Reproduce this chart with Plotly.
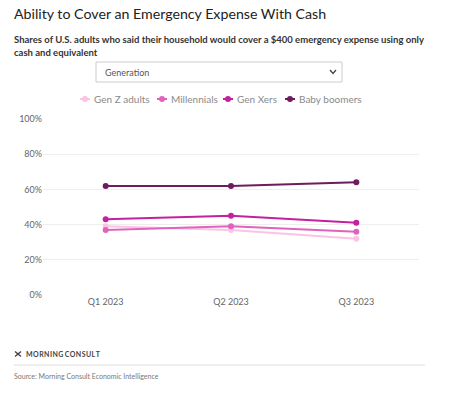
import plotly.graph_objects as go

quarters = ["Q1 2023", "Q2 2023", "Q3 2023"]
gen_z = [39, 37, 32]
millennials = [37, 39, 36]
gen_x = [43, 45, 41]
boomers = [62, 62, 64]
series_names = ["Gen Z adults", "Millennials", "Gen Xers", "Baby boomers"]
series_values = [gen_z, millennials, gen_x, boomers]
colors = ["#fbc3e4", "#e064bd", "#c5219e", "#6e1c5c"]
y_ticks = [0, 20, 40, 60, 80, 100]
y_tick_labels = ["0%", "20%", "40%", "60%", "80%", "100%"]

FONT = "Lato"
W, H = 452, 393
# plot area in page pixels: x 43..419, y 119..295
L, R, T, B = 43, 452 - 419, 119, 393 - 295
PW, PH = W - L - R, H - T - B


def px(x):
    return (x - L) / PW


def py(y):
    return (H - B - y) / PH


fig = go.Figure()
for name, vals, c in zip(series_names, series_values, colors):
    fig.add_trace(go.Scatter(
        x=quarters, y=vals, name=name, mode="lines+markers",
        line=dict(color=c, width=2), marker=dict(color=c, size=6),
        hovertemplate="%{y}%<extra>" + name + "</extra>",
    ))


def note(text, x, y, size, color, anchor="left"):
    return dict(text=text, x=px(x), y=py(y), xref="paper", yref="paper",
                xanchor=anchor, yanchor="middle", showarrow=False,
                font=dict(family=FONT, size=size, color=color))


hs = "\u200a"
logo_text = hs.join("MORNING") + hs * 3 + hs.join("CONSULT")

annotations = [
    note("Ability to Cover an Emergency Expense With Cash", 12, 13, 14.2, "#222222"),
    note("<b>Shares of U.S. adults who said their household would cover a $400 emergency expense using only</b>",
         12, 40, 9.5, "#333333"),
    note("<b>cash and equivalent</b>", 12, 52, 9.5, "#333333"),
    note("Generation", 103, 72, 9, "#555555"),
    note("<b>" + logo_text + "</b>", 24, 354, 7, "#444444"),
    note("Source: Morning Consult Economic Intelligence", 12, 376, 7, "#777777"),
]

shapes = [
    dict(type="rect", xref="paper", yref="paper", x0=px(96), x1=px(342), y0=py(82), y1=py(62),
         line=dict(color="#cccccc", width=1), fillcolor="white", layer="below"),
    dict(type="path", xref="paper", yref="paper",
         path=f"M {px(330)},{py(70)} L {px(333)},{py(73.5)} L {px(336)},{py(70)}",
         line=dict(color="#444444", width=1.3)),
    dict(type="line", xref="paper", yref="paper", x0=px(14), x1=px(425), y0=py(365), y1=py(365),
         line=dict(color="#dddddd", width=1)),
    dict(type="line", xref="paper", yref="paper", x0=px(15), x1=px(21), y0=py(351.5), y1=py(356.5),
         line=dict(color="#444444", width=1.4)),
    dict(type="line", xref="paper", yref="paper", x0=px(15), x1=px(21), y0=py(356.5), y1=py(351.5),
         line=dict(color="#444444", width=1.4)),
]

# compact legend
legend_sym_x = [85, 162, 228, 290]
for name, c, sx in zip(series_names, colors, legend_sym_x):
    shapes.append(dict(type="line", xref="paper", yref="paper", x0=px(sx - 5), x1=px(sx + 5),
                       y0=py(99), y1=py(99), line=dict(color=c, width=2)))
    shapes.append(dict(type="circle", xref="paper", yref="paper", x0=px(sx - 3), x1=px(sx + 3),
                       y0=py(102), y1=py(96), fillcolor=c, line=dict(color=c, width=0)))
    annotations.append(note(name, sx + 7, 99, 10, "#8a8a8a"))

fig.update_layout(
    width=W, height=H,
    margin=dict(l=L, r=R, t=T, b=B, autoexpand=False),
    paper_bgcolor="white", plot_bgcolor="white",
    font=dict(family=FONT, size=9, color="#666666"),
    showlegend=False,
    xaxis=dict(range=[-0.5, 2.5], showgrid=False, showline=False, zeroline=False,
               tickfont=dict(family=FONT, size=9, color="#666666"), ticks=""),
    yaxis=dict(range=[0, 100], tickvals=y_ticks, ticktext=y_tick_labels,
               showgrid=True, gridcolor="#eeeeee", gridwidth=1, zeroline=False,
               showline=False, tickfont=dict(family=FONT, size=9, color="#666666")),
    annotations=annotations, shapes=shapes,
)

fig.write_html(
    "out.html",
    config={"displayModeBar": False},
    post_script="document.body.style.margin='0';document.body.style.overflow='hidden';",
)
